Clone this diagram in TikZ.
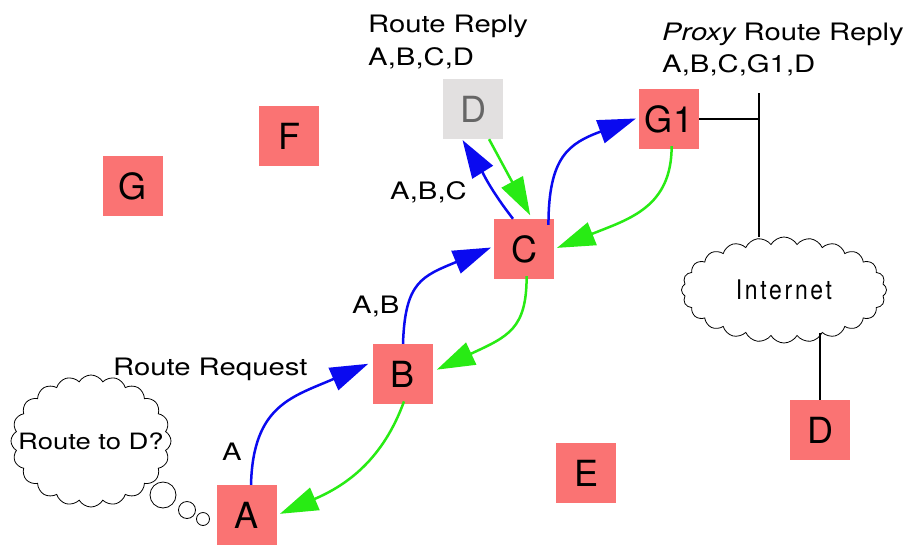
\documentclass[tikz,border=0pt]{standalone}
\usepackage{fontspec}
\setmainfont{TeX Gyre Heros}
\newfontfamily\lblfont[FakeStretch=1.22]{TeX Gyre Heros}
\newfontfamily\inetfont[FakeStretch=0.85,LetterSpace=10]{TeX Gyre Heros}
\usetikzlibrary{arrows.meta,shapes.symbols,calc}
\definecolor{boxred}{RGB}{250,115,115}
\definecolor{boxgray}{RGB}{226,224,224}
\definecolor{reqblue}{RGB}{10,10,240}
\definecolor{repgreen}{RGB}{40,235,20}
\begin{document}
\begin{tikzpicture}[x=1pt,y=1pt,
  host/.style={fill=boxred, minimum width=60pt, minimum height=60pt, inner sep=0pt, font=\fontsize{36}{36}\selectfont},
  ghost/.style={host, fill=boxgray, text=black!60},
  lbl/.style={font=\lblfont\fontsize{24}{28}\selectfont, inner sep=0pt, anchor=base west},
  req/.style={draw=reqblue, line width=2.5pt, -{Triangle[length=38pt,width=24pt]}},
  rep/.style={draw=repgreen, line width=2.5pt, -{Triangle[length=38pt,width=24pt]}},
  wire/.style={draw=black, line width=2pt},
  bubble/.style={circle, draw, line width=0.8pt, inner sep=0pt},
  cloudy/.style={cloud, draw, line width=0.8pt, cloud puff arc=120, inner sep=0pt}
]
\useasboundingbox[fill=white] (0,-544) rectangle (916,0);

% hosts
\node[host] (A) at (247,-515) {A};
\node[host] (B) at (403,-374) {B};
\node[host] (C) at (524,-249) {C};
\node[ghost] (Dg) at (473,-109) {D};
\node[host] (G1) at (669,-119) {G1};
\node[host] (F) at (289,-136) {F};
\node[host] (G) at (133,-186) {G};
\node[host] (E) at (586,-473) {E};
\node[host] (D) at (820,-430) {D};

% clouds
\node[cloudy, cloud puffs=24, minimum width=205pt, minimum height=106pt] (inet) at (784,-290) {};
\node[inner sep=0pt] (inettext) at (inet.center) {\inetfont\fontsize{27}{27}\selectfont Internet};
\node[cloudy, cloud puffs=20, minimum width=160pt, minimum height=132pt] (think) at (91,-441) {};
\node[inner sep=0pt] (thinktext) at (think.center) {\lblfont\fontsize{22.5}{22.5}\selectfont Route to D?};
\node[bubble, minimum size=26pt] (b1) at (163,-495) {};
\node[bubble, minimum size=17pt] (b2) at (187,-510) {};
\node[bubble, minimum size=13pt] (b3) at (203,-519) {};

% labels
\node[lbl] (rr) at (368,-32) {Route Reply};
\node[lbl] (rrp) at (368,-65) {A,B,C,D};
\node[lbl] (prr) at (662,-40) {\itshape Proxy\upshape{} Route Reply};
\node[lbl] (prrp) at (662,-72) {A,B,C,G1,D};
\node[lbl] (labc) at (390,-199) {A,B,C};
\node[lbl] (lab) at (352,-313) {A,B};
\node[lbl] (lreq) at (113,-375) {Route Request};
\node[lbl] (la) at (222,-460) {A};

% wires
\coordinate (top) at (759,-93);
\draw[wire] (top) -- (top |- inet.north);
\draw[wire] (G1.east) -- (G1.east -| top);
\draw[wire] (D.north) -- ($(D.north |- inet.south)+(0,10)$);

% requests (blue)
\draw[req, shorten >=5pt] ([xshift=4pt]A.north) .. controls +(2,80) and +(-80,-35) .. (B.158);
\draw[req, shorten >=3pt] (B.north) .. controls +(2,62) and +(-72,-30) .. (C.175);
\draw[req, shorten >=1pt] (C.110) to[out=128, in=-58] (Dg.250);
\draw[req, shorten >=3pt, shorten <=-6pt] (C.51) .. controls +(0,62) and +(-70,-26) .. (G1.177);

% replies (green)
\draw[rep, shorten >=4pt] (Dg.298) -- (C.75);
\draw[rep, shorten >=3pt, shorten <=-3pt] (G1.275) .. controls +(0,-58) and +(75,30) .. (C.east);
\draw[rep, shorten >=4pt, shorten <=-3pt] (C.275) .. controls +(0,-50) and +(75,35) .. (B.5);
\draw[rep, shorten >=3pt, shorten <=-3pt] (B.south) .. controls +(-20,-55) and +(70,30) .. (A.east);
\end{tikzpicture}
\end{document}
